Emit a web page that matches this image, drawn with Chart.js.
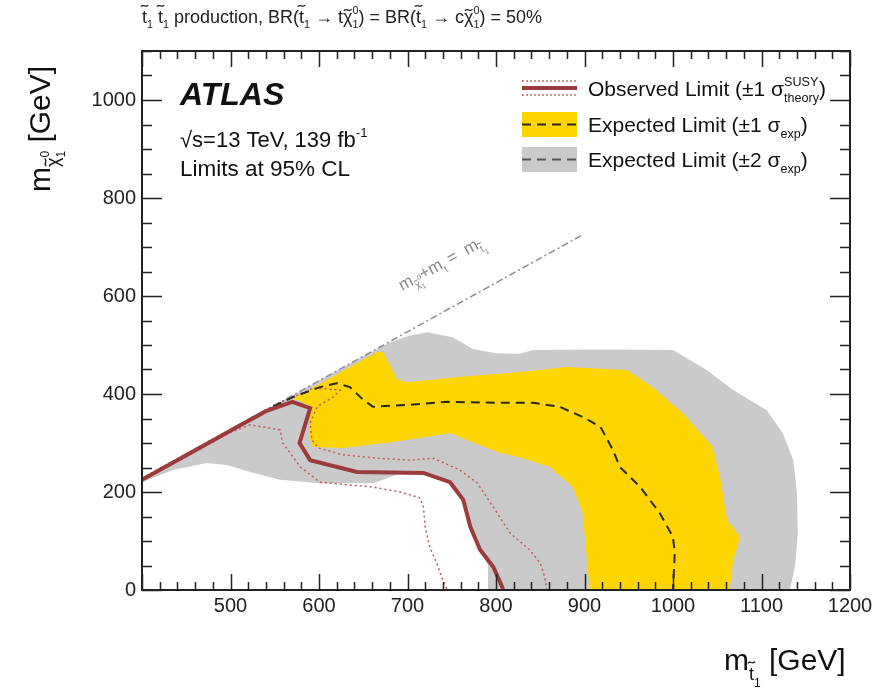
<!DOCTYPE html>
<html>
<head>
<meta charset="utf-8">
<script src="https://cdn.jsdelivr.net/npm/chart.js@4.4.0/dist/chart.umd.min.js"></script>
<style>
html,body{margin:0;padding:0;background:#fff;}
#c{display:block;}
</style>
</head>
<body>
<canvas id="c" width="884" height="690"></canvas>
<script>
// ---------------- data ----------------
const xTickValues = [400, 500, 600, 700, 800, 900, 1000, 1100, 1200];
const yTickValues = [0, 200, 400, 600, 800, 1000];

// kinematic limit m_chi + m_t = m_stop
const kinX = [400, 897];
const kinY = [227, 724];

// +-2 sigma expected band (closed shape: outer edge, then inner edge back)
const band2X = [400,450,500,550,600,650,680,700,722,751,774,800,827,842,920,1000,1038,1068,1106,1124,1136,1140,1141,1138,1132,
                791,791,782,771,763,748,717,692,661,601,556,522,496,473,435,400];
const band2Y = [227,277,327,377,427,477,505,518,526,516,492,483,482,490,491,490,449,408,367,320,265,198,116,50,0,
                0,51,82,129,184,220,238,238,218,218,225,241,255,259,245,220];

// +-1 sigma expected band (closed shape)
const band1X = [570,620,665,672,677,688,700,748,827,880,948,977,1011,1045,1053,1061,1076,1068,1064,
                906,903,898,887,861,827,804,748,684,627,593,590,589,591,580];
const band1Y = [390,440,485,486,470,430,424,433,445,455,449,414,361,292,231,143,108,61,0,
                0,61,157,210,251,271,280,320,302,290,292,306,340,373,385];

// expected limit
const expX = [400,450,500,550,571,601,620,635,650,661,703,745,804,842,872,898,918,932,940,963,985,1000,1002,1000];
const expY = [226,276,326,376,394,414,422,414,388,374,378,384,382,382,374,353,333,286,251,210,157,108,76,0];

// observed limit
const obsX = [400,450,510,540,570,590,578,590,643,718,748,763,771,782,797,807,808];
const obsY = [225,275,335,365,384,371,300,265,241,239,220,184,129,82,47,6,0];

// observed +1 sigma theory
const obsUpX = [400,450,500,550,585,593,624,616,598,590,592,599,627,666,703,729,759,779,797,816,838,850,855,857,857];
const obsUpY = [228,278,328,378,405,412,408,394,374,341,306,290,276,269,265,269,245,218,169,116,82,55,27,6,0];

// observed -1 sigma theory
const obsDnX = [400,450,500,522,556,559,579,601,661,692,714,718,720,725,733,740,745];
const obsDnY = [224,272,322,337,327,300,251,220,210,200,188,169,129,88,55,20,0];

// ---------------- helpers ----------------
const FAM = '"Liberation Sans", Arial, Helvetica, sans-serif';
function pts(xs, ys){ return xs.map((x,i)=>({x:x, y:ys[i]})); }

function drawTilde(ctx, cx, ty, w, lw){
  ctx.save();
  ctx.lineWidth = lw;
  ctx.strokeStyle = ctx.fillStyle;
  ctx.beginPath();
  const h = w*0.22;
  ctx.moveTo(cx - w/2, ty + h*0.5);
  ctx.bezierCurveTo(cx - w/6, ty - h*1.6, cx + w/6, ty + h*1.6, cx + w/2, ty - h*0.5);
  ctx.stroke();
  ctx.restore();
}
function drawPart(ctx, p, x, y, size, style){
  if (typeof p === 'string') p = {t:p};
  if (p.stack){
    let w = 0;
    for (const q of p.stack) w = Math.max(w, drawPart(ctx, q, x, y, size, style));
    return w;
  }
  const k = p.k || 1, fs = size*k;
  ctx.font = (style ? style + ' ' : '') + fs + 'px ' + FAM;
  const yy = y + (p.dy || 0)*size;
  ctx.fillText(p.t, x, yy);
  const w = ctx.measureText(p.t).width;
  if (p.tilde){
    drawTilde(ctx, x + w/2, yy - (p.th || 0.9)*fs, Math.max(w*0.8, fs*0.4), Math.max(1, fs*0.07));
  }
  return w + (p.gap || 0)*size;
}
function rich(ctx, parts, x, y, size, color, style){
  ctx.save();
  ctx.fillStyle = color;
  ctx.textBaseline = 'alphabetic';
  ctx.textAlign = 'left';
  let cx = x;
  for (const p of parts) cx += drawPart(ctx, p, cx, y, size, style);
  ctx.restore();
  return cx - x;
}

// ---------------- custom drawing plugin ----------------
const decor = {
  id: 'decor',
  afterDatasetsDraw(chart){
    const ctx = chart.ctx, xs = chart.scales.x, ys = chart.scales.y, a = chart.chartArea;
    ctx.save();
    // inward ticks on all four sides
    ctx.strokeStyle = '#222';
    ctx.lineWidth = 1.5;
    ctx.beginPath();
    for (let v = 400; v <= 1200; v += 20){
      const px = Math.round(xs.getPixelForValue(v)) + 0.5;
      const L = (v % 100 === 0) ? 16 : 8;
      ctx.moveTo(px, a.bottom); ctx.lineTo(px, a.bottom - L);
      ctx.moveTo(px, a.top); ctx.lineTo(px, a.top + L);
    }
    for (let v = 0; v <= 1100; v += 50){
      const py = Math.round(ys.getPixelForValue(v)) + 0.5;
      const L = (v % 200 === 0) ? 20 : 10;
      ctx.moveTo(a.left, py); ctx.lineTo(a.left + L, py);
      ctx.moveTo(a.right, py); ctx.lineTo(a.right - L, py);
    }
    ctx.stroke();
    // frame
    ctx.lineWidth = 2;
    ctx.strokeStyle = '#222';
    ctx.strokeRect(a.left, a.top, a.right - a.left, a.bottom - a.top);

    // kinematic line label (rotated along the line)
    const p0x = xs.getPixelForValue(kinX[0]), p0y = ys.getPixelForValue(kinY[0]);
    const p1x = xs.getPixelForValue(kinX[1]), p1y = ys.getPixelForValue(kinY[1]);
    const ang = Math.atan2(p1y - p0y, p1x - p0x);
    ctx.save();
    ctx.translate(xs.getPixelForValue(694), ys.getPixelForValue(610));
    ctx.rotate(ang);
    rich(ctx, ['m', {t:'χ', k:0.6, dy:0.3, tilde:true, th:0.75}, {stack:[{t:'0',k:0.42,dy:-0.1},{t:'1',k:0.42,dy:0.5}]},
               '+m', {t:'t', k:0.6, dy:0.3}, ' =  m', {t:'t', k:0.6, dy:0.3, tilde:true, th:0.95}, {t:'1',k:0.42,dy:0.5}],
         0, 0, 17, '#8a8a8a');
    ctx.restore();

    // ATLAS label block
    ctx.fillStyle = '#111';
    ctx.font = 'italic bold 32px ' + FAM;
    ctx.fillText('ATLAS', 180, 105);
    rich(ctx, ['√s=13 TeV, 139 fb', {t:'-1', k:0.6, dy:-0.45}], 180, 147, 22, '#111');
    rich(ctx, ['Limits at 95% CL'], 180, 176, 22.5, '#111');

    // legend
    const lx0 = 522, lx1 = 577, tx = 588;
    // row 1: observed
    ctx.lineWidth = 4; ctx.strokeStyle = '#9b3b3b'; ctx.setLineDash([]);
    ctx.beginPath(); ctx.moveTo(lx0, 88); ctx.lineTo(lx1, 88); ctx.stroke();
    ctx.lineWidth = 1.5; ctx.strokeStyle = '#c06a6a'; ctx.setLineDash([2,2]);
    ctx.beginPath(); ctx.moveTo(lx0, 81); ctx.lineTo(lx1, 81); ctx.moveTo(lx0, 95); ctx.lineTo(lx1, 95); ctx.stroke();
    ctx.setLineDash([]);
    rich(ctx, ['Observed Limit (±1 σ', {stack:[{t:'SUSY',k:0.6,dy:-0.48},{t:'theory',k:0.6,dy:0.3}]}, ')'], tx, 96, 21, '#111');
    // row 2: expected +-1
    ctx.fillStyle = '#ffd500'; ctx.fillRect(lx0, 112, lx1 - lx0, 25);
    ctx.lineWidth = 2; ctx.strokeStyle = '#2a2a1a'; ctx.setLineDash([9,6]);
    ctx.beginPath(); ctx.moveTo(lx0, 124.5); ctx.lineTo(lx1, 124.5); ctx.stroke();
    ctx.setLineDash([]);
    rich(ctx, ['Expected Limit (±1 σ', {t:'exp',k:0.6,dy:0.3}, ')'], tx, 132, 21, '#111');
    // row 3: expected +-2
    ctx.fillStyle = '#cacaca'; ctx.fillRect(lx0, 147, lx1 - lx0, 25);
    ctx.lineWidth = 2; ctx.strokeStyle = '#555'; ctx.setLineDash([9,6]);
    ctx.beginPath(); ctx.moveTo(lx0, 159.5); ctx.lineTo(lx1, 159.5); ctx.stroke();
    ctx.setLineDash([]);
    rich(ctx, ['Expected Limit (±2 σ', {t:'exp',k:0.6,dy:0.3}, ')'], tx, 167, 21, '#111');

    // title above frame
    const T = {t:'t', tilde:true, th:0.95}, X = {t:'χ', tilde:true, th:0.72};
    const s1 = {t:'1', k:0.6, dy:0.3};
    const st = {stack:[{t:'0',k:0.6,dy:-0.5},{t:'1',k:0.6,dy:0.3}]};
    rich(ctx, [T, s1, ' ', T, s1, ' production, BR(', T, s1, ' → t', X, st, ') = BR(', T, s1, ' → c', X, st, ') = 50%'],
         142, 23, 18, '#222');

    // axis titles
    rich(ctx, ['m', {t:'t', k:0.6, dy:0.32, tilde:true, th:0.95}, {t:'1', k:0.4, dy:0.55}, ' [GeV]'], 724, 670, 30, '#111');
    ctx.save();
    ctx.translate(50, 192);
    ctx.rotate(-Math.PI/2);
    rich(ctx, ['m', {t:'χ', k:0.6, dy:0.3, tilde:true, th:0.75}, {stack:[{t:'0',k:0.4,dy:-0.05},{t:'1',k:0.4,dy:0.5}]}, ' [GeV]'],
         0, 0, 30, '#111');
    ctx.restore();
    ctx.restore();
  }
};

// ---------------- chart ----------------
const ctx = document.getElementById('c').getContext('2d');
new Chart(ctx, {
  type: 'scatter',
  data: {
    datasets: [
      { label: 'band2', data: pts(band2X, band2Y), showLine: true, fill: 'shape',
        backgroundColor: '#cacaca', borderColor: 'rgba(0,0,0,0)', borderWidth: 0, pointRadius: 0, order: 6 },
      { label: 'band1', data: pts(band1X, band1Y), showLine: true, fill: 'shape',
        backgroundColor: '#ffd500', borderColor: 'rgba(0,0,0,0)', borderWidth: 0, pointRadius: 0, order: 5 },
      { label: 'kin', data: pts(kinX, kinY), showLine: true, fill: false,
        borderColor: '#8c8c8c', borderWidth: 1.5, borderDash: [7,3,2,3], pointRadius: 0, order: 4 },
      { label: 'obsDn', data: pts(obsDnX, obsDnY), showLine: true, fill: false,
        borderColor: '#b85c5c', borderWidth: 1.5, borderDash: [2,3], pointRadius: 0, order: 3 },
      { label: 'obsUp', data: pts(obsUpX, obsUpY), showLine: true, fill: false,
        borderColor: '#b85c5c', borderWidth: 1.5, borderDash: [2,3], pointRadius: 0, order: 3 },
      { label: 'exp', data: pts(expX, expY), showLine: true, fill: false,
        borderColor: '#2a2a1a', borderWidth: 2, borderDash: [9,6], pointRadius: 0, order: 2 },
      { label: 'obs', data: pts(obsX, obsY), showLine: true, fill: false,
        borderColor: '#9b3b3b', borderWidth: 4, pointRadius: 0, order: 1 }
    ]
  },
  options: {
    responsive: false,
    animation: false,
    devicePixelRatio: 1,
    layout: { padding: { left: 0, top: 51, right: 34, bottom: 0 } },
    plugins: { legend: { display: false }, tooltip: { enabled: false }, title: { display: false } },
    elements: { line: { tension: 0 } },
    scales: {
      x: {
        type: 'linear', min: 400, max: 1200,
        afterFit: s => { s.height = 100; },
        afterBuildTicks: s => { s.ticks = xTickValues.map(v => ({value: v})); },
        ticks: { stepSize: 100, padding: 4, color: '#222', font: { family: FAM, size: 20 },
                 callback: v => (v === 400 ? '' : String(v)), maxRotation: 0 },
        grid: { display: false, drawTicks: false },
        border: { display: false }
      },
      y: {
        type: 'linear', min: 0, max: 1100,
        afterFit: s => { s.width = 142; },
        afterBuildTicks: s => { s.ticks = yTickValues.map(v => ({value: v})); },
        ticks: { stepSize: 200, padding: 6, color: '#222', font: { family: FAM, size: 20 },
                 callback: v => String(v) },
        grid: { display: false, drawTicks: false },
        border: { display: false }
      }
    }
  },
  plugins: [decor]
});
</script>
</body>
</html>
